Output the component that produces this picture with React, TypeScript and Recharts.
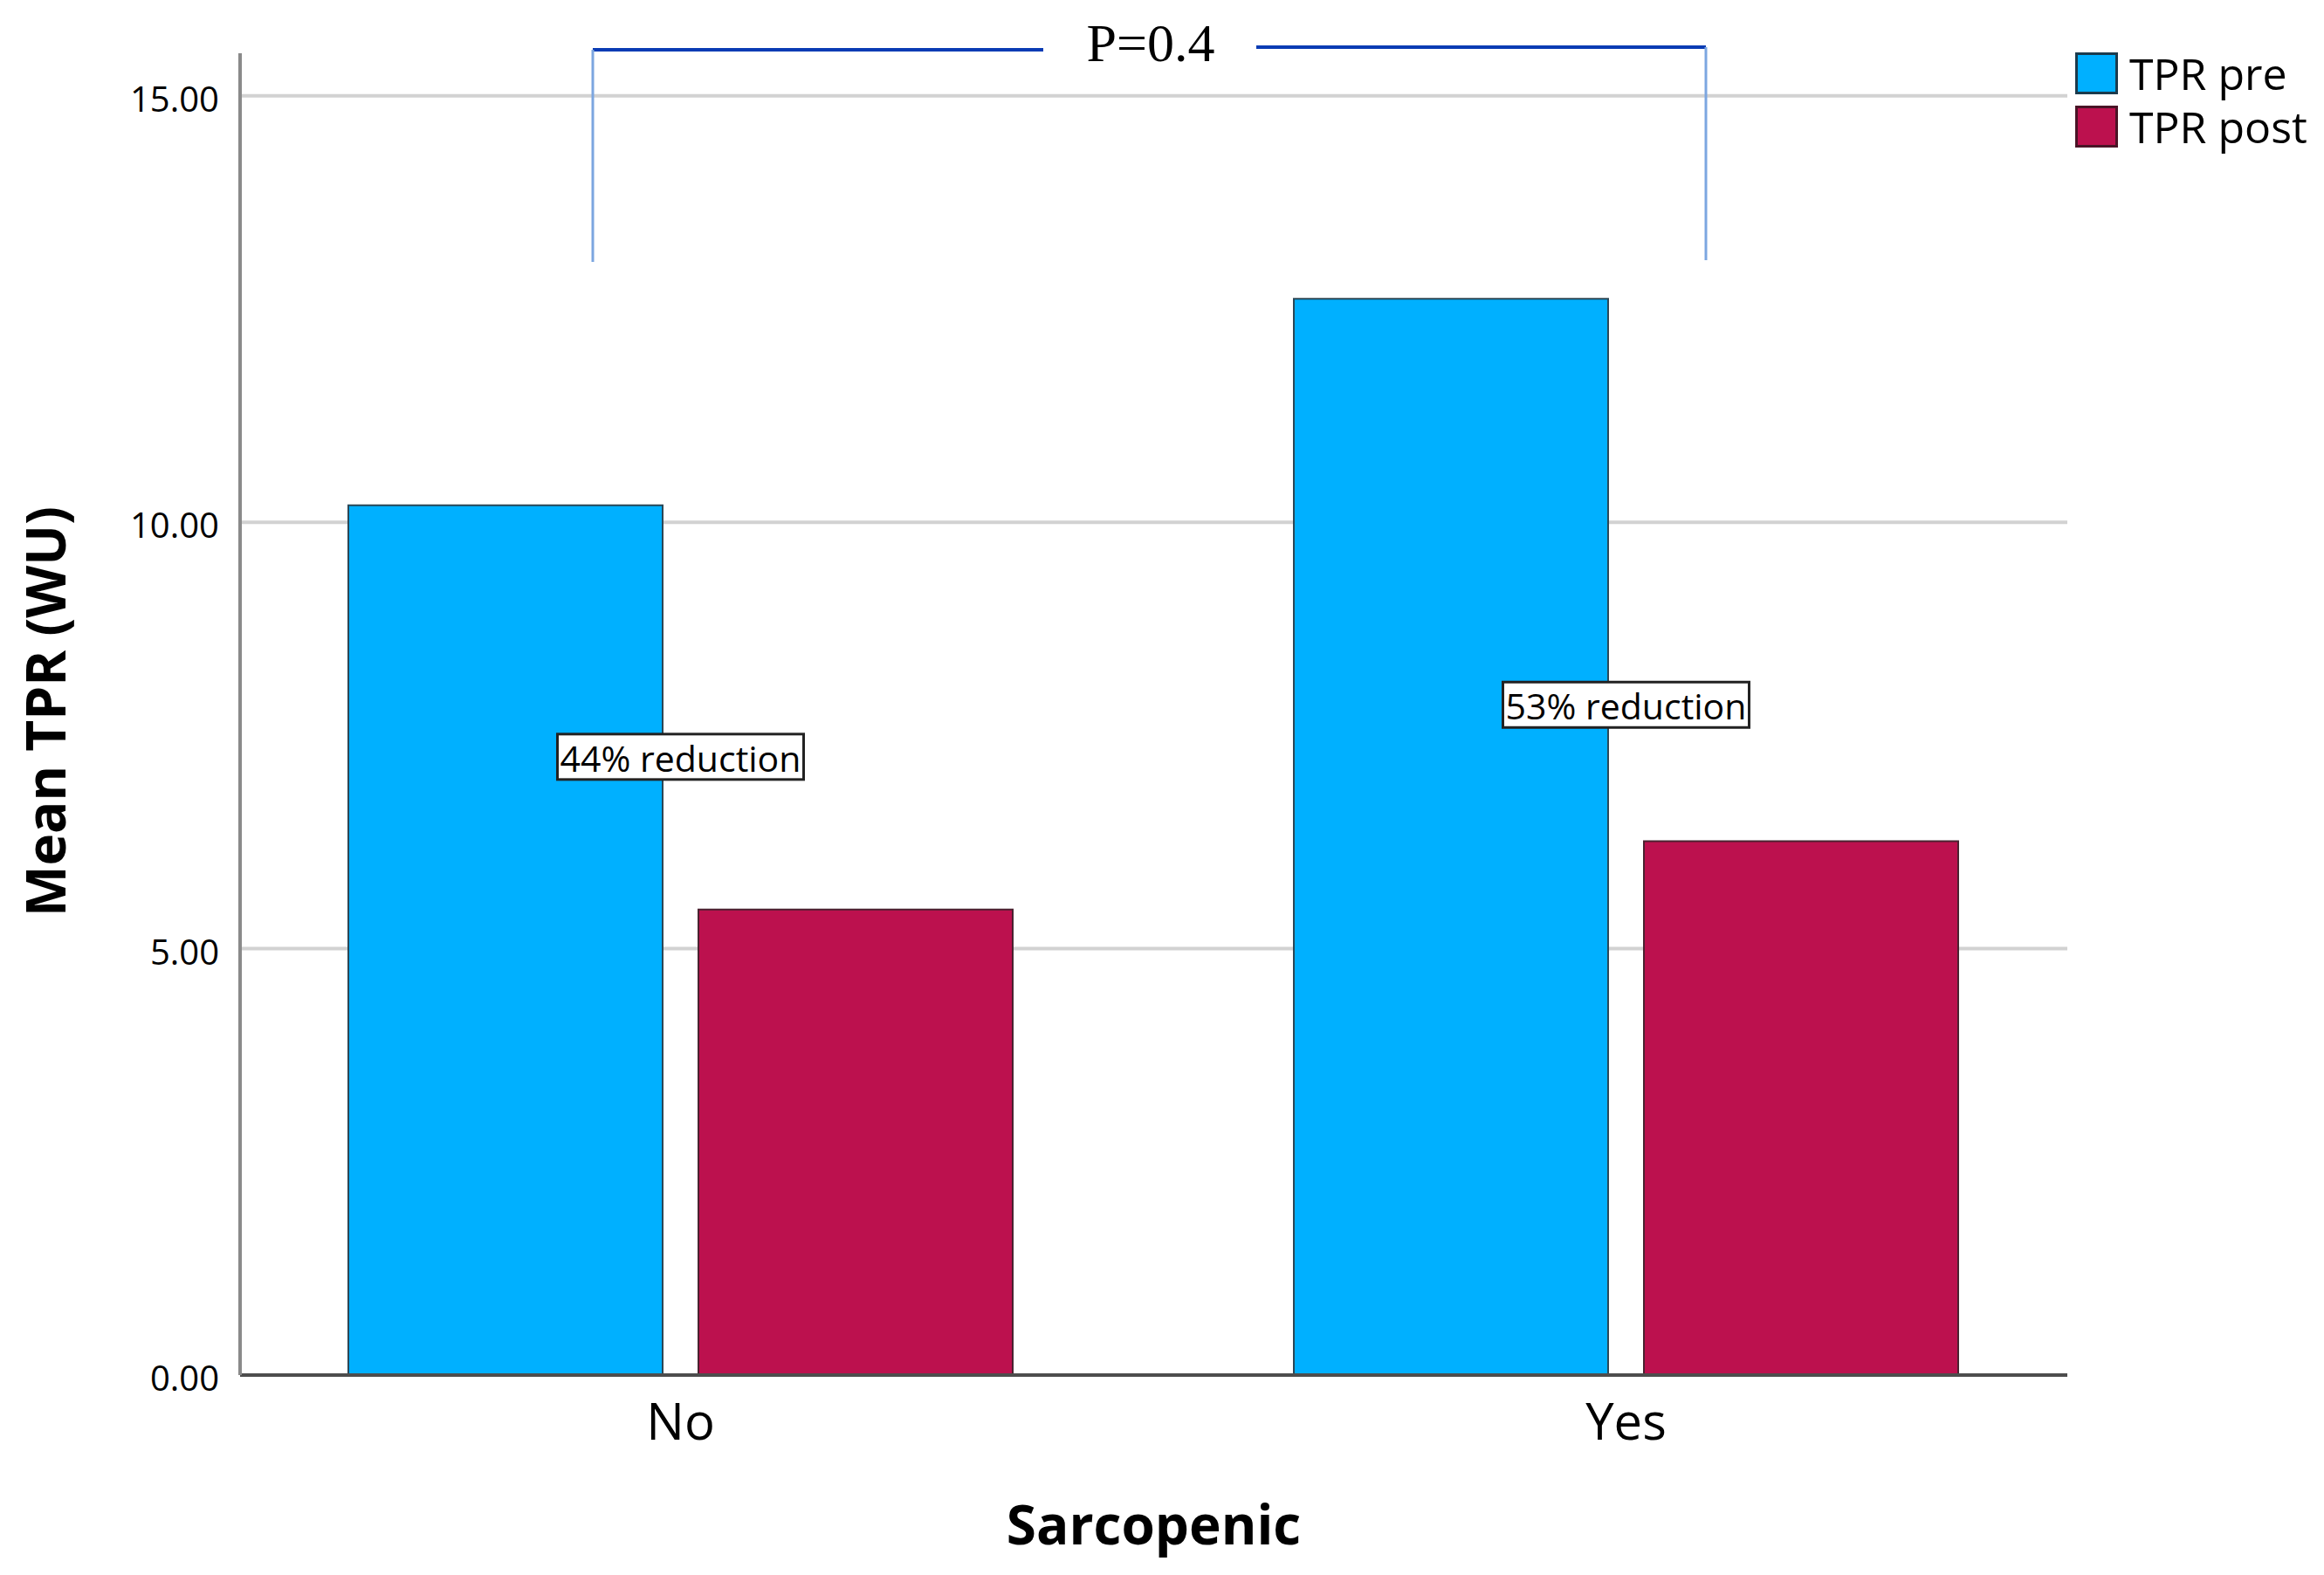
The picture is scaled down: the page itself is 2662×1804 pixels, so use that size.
import React from 'react';
import { BarChart, Bar, XAxis, YAxis, CartesianGrid, Legend, ReferenceDot, Label } from 'recharts';

const categories = ['No', 'Yes'];
const tprPre = [10.2, 12.62];
const tprPost = [5.46, 6.26];
const seriesNames = ['TPR pre', 'TPR post'];
const yTicks = [0, 5, 10, 15];
const reductionLabels = ['44% reduction', '53% reduction'];
const reductionLabelY = [7.25, 7.86];
const pValueText = 'P=0.4';
const xAxisTitle = 'Sarcopenic';
const yAxisTitle = 'Mean TPR (WU)';

const preColor = '#00b0ff';
const postColor = '#bc114e';
const swatchBorders = ['#1b3b4d', '#4a1426'];

const data = categories.map((c, i) => ({ name: c, pre: tprPre[i], post: tprPost[i] }));

const FONT = '"Open Sans", "Noto Sans", sans-serif';

const makeBox = (text: string) => (props: any) => {
  const { cx, cy } = props;
  const w = 282;
  const h = 52;
  return (
    <g>
      <rect x={cx - w / 2} y={cy - h / 2} width={w} height={h} fill="#fff" stroke="#222" strokeWidth={3} />
      <text x={cx} y={cy + 1} textAnchor="middle" dominantBaseline="central" fontSize={41} fontFamily={FONT} fill="#000">
        {text}
      </text>
    </g>
  );
};

const renderLegend = (props: any) => {
  const payload = [...(props.payload || [])].sort(
    (a: any, b: any) => seriesNames.indexOf(a.value) - seriesNames.indexOf(b.value)
  );
  return (
    <div>
      {payload.map((entry: any, i: number) => (
        <div key={i} style={{ display: 'flex', alignItems: 'center', height: 61 }}>
          <div
            style={{
              width: 43,
              height: 42,
              background: entry.color,
              border: `3px solid ${swatchBorders[seriesNames.indexOf(entry.value)]}`,
            }}
          />
          <span style={{ marginLeft: 13, fontSize: 50, fontFamily: FONT, color: '#000', lineHeight: '50px' }}>
            {entry.value}
          </span>
        </div>
      ))}
    </div>
  );
};

export default function App() {
  return (
    <div style={{ position: 'absolute', left: 0, top: 0, width: 2662, height: 1804, background: '#fff' }}>
      <BarChart
        width={2662}
        height={1804}
        data={data}
        margin={{ top: 61, right: 294, bottom: 0, left: 0 }}
        barSize={360}
        barGap={41}
      >
        <CartesianGrid vertical={false} horizontalValues={yTicks} stroke="#d2d2d2" strokeWidth={4} />
        <XAxis
          dataKey="name"
          height={229}
          padding={{ left: -37, right: -36 }}
          tickLine={false}
          tickSize={6}
          tickMargin={27}
          axisLine={{ stroke: '#4d4d4d', strokeWidth: 4 }}
          tick={{ fontSize: 58, fill: '#000', fontFamily: FONT }}
        >
          <Label
            content={(p: any) => {
              const vb = p.viewBox || {};
              return (
                <text
                  x={vb.x + vb.width / 2}
                  y={1769}
                  textAnchor="middle"
                  fontSize={62}
                  fontWeight="bold"
                  fontFamily={FONT}
                  fill="#000"
                >
                  {xAxisTitle}
                </text>
              );
            }}
          />
        </XAxis>
        <YAxis
          width={275}
          domain={[0, 15.5]}
          ticks={yTicks}
          tickFormatter={(v: number) => v.toFixed(2)}
          tickLine={false}
          tickSize={6}
          tickMargin={18}
          axisLine={{ stroke: '#8a8a8a', strokeWidth: 4 }}
          tick={{ fontSize: 40, fill: '#000', fontFamily: FONT, dy: 4 }}
        >
          <Label
            content={(p: any) => {
              const vb = p.viewBox || {};
              const cy = vb.y + vb.height / 2 - 3;
              return (
                <text
                  x={51}
                  y={cy}
                  transform={`rotate(-90, 51, ${cy})`}
                  textAnchor="middle"
                  dominantBaseline="central"
                  fontSize={62}
                  fontWeight="bold"
                  fontFamily={FONT}
                  fill="#000"
                >
                  {yAxisTitle}
                </text>
              );
            }}
          />
        </YAxis>
        <Legend
          layout="vertical"
          align="center"
          verticalAlign="middle"
          content={renderLegend}
          wrapperStyle={{ position: 'absolute', left: 2377, top: 53, width: 285 }}
        />
        <Bar
          dataKey="pre"
          name={seriesNames[0]}
          fill={preColor}
          stroke="#2b4756"
          strokeWidth={2}
          isAnimationActive={false}
        />
        <Bar
          dataKey="post"
          name={seriesNames[1]}
          fill={postColor}
          stroke="#4a2230"
          strokeWidth={2}
          isAnimationActive={false}
        />
        {categories.map((c, i) => (
          <ReferenceDot
            key={c}
            x={c}
            y={reductionLabelY[i]}
            r={0}
            ifOverflow="visible"
            shape={makeBox(reductionLabels[i])}
          />
        ))}
      </BarChart>
      <svg
        width={2662}
        height={1804}
        style={{ position: 'absolute', left: 0, top: 0, pointerEvents: 'none' }}
      >
        <line x1={679} y1={57} x2={1195} y2={57} stroke="#0a3cb4" strokeWidth={4} />
        <line x1={1439} y1={54} x2={1954} y2={54} stroke="#0a3cb4" strokeWidth={4} />
        <line x1={679} y1={57} x2={679} y2={300} stroke="#7ca6e0" strokeWidth={3} />
        <line x1={1954} y1={54} x2={1954} y2={298} stroke="#7ca6e0" strokeWidth={3} />
        <text x={1318} y={70} textAnchor="middle" fontSize={62} fontFamily='"Liberation Serif", "DejaVu Serif", serif' fill="#000">
          {pValueText}
        </text>
      </svg>
    </div>
  );
}
